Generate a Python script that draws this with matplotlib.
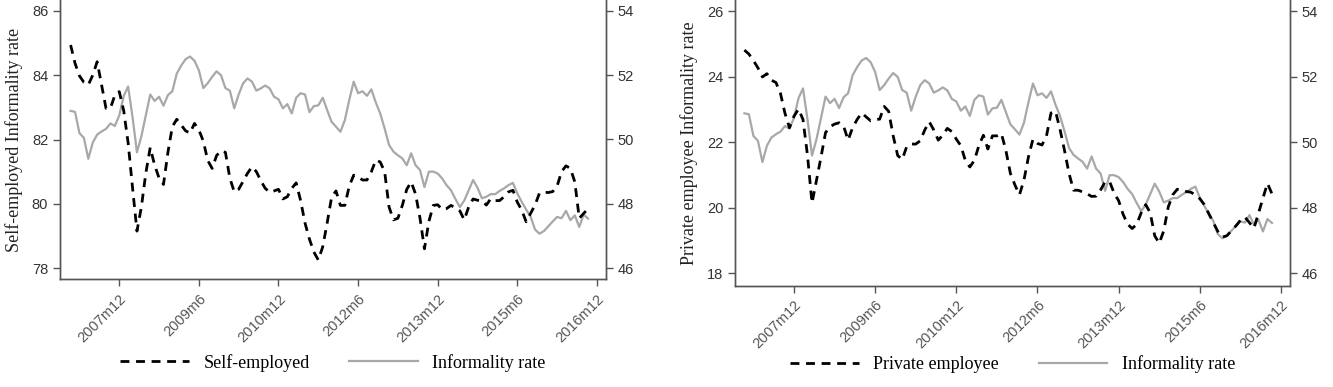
import matplotlib
matplotlib.use("Agg")
import matplotlib.pyplot as plt
import numpy as np

# monthly series, 2007m1 .. 2016m10
start_label = "2007m1"

informality = [
    50.89, 50.86, 50.2, 50.05, 49.4, 49.9, 50.15, 50.25, 50.33, 50.5,
    50.42, 50.75, 51.35, 51.65, 50.7, 49.6, 50.1, 50.75, 51.4, 51.2,
    51.33, 51.05, 51.38, 51.5, 52.05, 52.3, 52.5, 52.58, 52.45, 52.15,
    51.6, 51.75, 51.95, 52.12, 52.0, 51.6, 51.52, 50.97, 51.4, 51.75,
    51.9, 51.8, 51.52, 51.59, 51.68, 51.59, 51.33, 51.25, 50.97, 51.1,
    50.81, 51.3, 51.44, 51.4, 50.85, 51.04, 51.06, 51.3, 50.92, 50.55,
    50.4, 50.24, 50.6, 51.23, 51.8, 51.44, 51.5, 51.36, 51.56, 51.15,
    50.81, 50.34, 49.83, 49.62, 49.51, 49.41, 49.2, 49.57, 49.2, 49.05,
    48.52, 49.0, 49.0, 48.94, 48.79, 48.58, 48.42, 48.15, 47.9, 48.1,
    48.42, 48.74, 48.5, 48.17, 48.22, 48.3, 48.3, 48.4, 48.48, 48.58,
    48.65, 48.32, 48.06, 47.82, 47.6, 47.2, 47.07, 47.15, 47.3, 47.45,
    47.59, 47.55, 47.78, 47.49, 47.64, 47.28, 47.66, 47.54,
]

self_employed = [
    84.94, 84.37, 83.98, 83.78, 83.7, 84.0, 84.42, 83.7, 82.97, 82.97,
    83.38, 83.49, 82.9, 81.9, 80.5, 79.15, 79.9, 80.95, 81.75, 81.2,
    80.8, 80.6, 81.6, 82.4, 82.63, 82.45, 82.27, 82.2, 82.5, 82.3,
    81.95, 81.35, 81.1, 81.5, 81.65, 81.6, 80.8, 80.37, 80.45, 80.7,
    80.95, 81.15, 81.0, 80.72, 80.48, 80.36, 80.4, 80.45, 80.15, 80.22,
    80.48, 80.65, 80.1, 79.4, 78.9, 78.5, 78.25, 78.66, 79.4, 80.2,
    80.4, 79.95, 79.95, 80.55, 80.89, 80.84, 80.74, 80.74, 81.0, 81.36,
    81.3, 81.0, 79.9, 79.5, 79.55, 79.95, 80.45, 80.68, 80.3, 79.55,
    78.6, 79.45, 79.95, 79.97, 79.82, 79.85, 79.95, 79.87, 79.78, 79.5,
    79.9, 80.15, 80.11, 80.1, 79.96, 80.16, 80.1, 80.1, 80.22, 80.37,
    80.42, 80.05, 79.8, 79.44, 79.7, 79.96, 80.33, 80.36, 80.35, 80.38,
    80.55, 81.0, 81.18, 81.1, 80.68, 79.55, 79.7, 79.85,
]

private_employee = [
    24.82, 24.7, 24.5, 24.28, 24.0, 24.1, 23.9, 23.83, 23.5, 22.89,
    22.45, 22.8, 23.02, 22.7, 21.6, 20.15, 20.85, 21.56, 22.3, 22.48,
    22.56, 22.6, 22.5, 22.07, 22.45, 22.7, 22.9, 22.78, 22.66, 22.7,
    22.71, 23.1, 22.95, 22.2, 21.6, 21.48, 21.87, 21.95, 21.95, 22.05,
    22.38, 22.63, 22.38, 22.07, 22.22, 22.43, 22.33, 22.1, 21.9, 21.45,
    21.25, 21.45, 21.9, 22.22, 21.8, 22.2, 22.2, 22.27, 21.75, 21.05,
    20.7, 20.4, 20.85, 21.56, 22.1, 21.97, 21.92, 22.2, 22.9, 22.95,
    22.4, 21.75, 21.05, 20.54, 20.54, 20.49, 20.43, 20.35, 20.36, 20.55,
    20.8, 20.8, 20.45, 20.22, 19.8, 19.5, 19.37, 19.5, 19.85, 20.1,
    19.85, 19.15, 18.92, 19.3, 20.03, 20.4, 20.57, 20.55, 20.5, 20.48,
    20.4, 20.28, 20.1, 19.82, 19.55, 19.28, 19.11, 19.15, 19.3, 19.45,
    19.62, 19.72, 19.55, 19.38, 19.83, 20.3, 20.75, 20.43,
]

tick_labels = ["2007m12", "2009m6", "2010m12", "2012m6", "2013m12", "2015m6", "2016m12"]
yticks_self = [78, 80, 82, 84, 86]
yticks_private = [18, 20, 22, 24, 26]
yticks_informality = [46, 48, 50, 52, 54]


def month_index(lbl):
    y, m = lbl.split("m")
    y0, m0 = start_label.split("m")
    return (int(y) - int(y0)) * 12 + int(m) - int(m0)


x = np.arange(len(informality))
tick_pos = [month_index(t) for t in tick_labels]

W, H = 1333, 387
fig = plt.figure(figsize=(W / 100, H / 100), dpi=100)

serif = "Liberation Serif"
sans = "Liberation Sans"
axcol = "#555555"
gray = "#a8a8a8"


def panel(rect, series, yticks, ylab, ylim_l, ylim_r, xlim, leg_name, leg_y):
    ax = fig.add_axes(rect)
    ax2 = ax.twinx()
    l2, = ax2.plot(x, informality, color=gray, lw=1.6, label="Informality rate")
    l1, = ax.plot(x, series, color="black", lw=2.0, linestyle=(0, (3.2, 2.4)),
                  label=leg_name)
    ax.set_zorder(ax2.get_zorder() + 1)
    ax.patch.set_visible(False)
    ax.set_ylim(*ylim_l)
    ax2.set_ylim(*ylim_r)
    ax.set_yticks(yticks)
    ax2.set_yticks(yticks_informality)
    ax.set_xlim(*xlim)
    ax.set_xticks(tick_pos)
    ax.set_xticklabels(tick_labels, rotation=45, ha="right", rotation_mode="anchor",
                       fontsize=10.5, family=sans, color="#333333")
    for a in (ax, ax2):
        a.spines["top"].set_visible(False)
        for s in a.spines.values():
            s.set_color(axcol)
            s.set_linewidth(1.0)
        a.tick_params(colors=axcol, length=5, width=1.0, labelsize=10.5)
        for t in a.get_yticklabels():
            t.set_family(sans)
            t.set_color("#333333")
    ax.tick_params(axis="x", pad=4)
    ax.set_ylabel(ylab, family=serif, fontsize=13, color="#222222", labelpad=6)
    ax.legend([l1, l2], [leg_name, "Informality rate"], ncol=2, frameon=False,
              loc="center", bbox_to_anchor=(0.5, leg_y), handlelength=3.8,
              columnspacing=2.2, handletextpad=0.8,
              prop={"family": serif, "size": 13})
    return ax


panel([60 / W, 1 - 279 / H, 546 / W, 279 / H], self_employed, yticks_self,
      "Self-employed Informality rate", (77.66, 86.34), (45.66, 54.34),
      (-2.4, 121.05), "Self-employed", -0.30)

panel([735 / W, 1 - 285.5 / H, 555 / W, 285.5 / H], private_employee, yticks_private,
      "Private employee Informality rate", (17.63, 26.35), (45.63, 54.35),
      (-2.08, 121.0), "Private employee", -0.275)

fig.savefig("out.png", dpi=100)
